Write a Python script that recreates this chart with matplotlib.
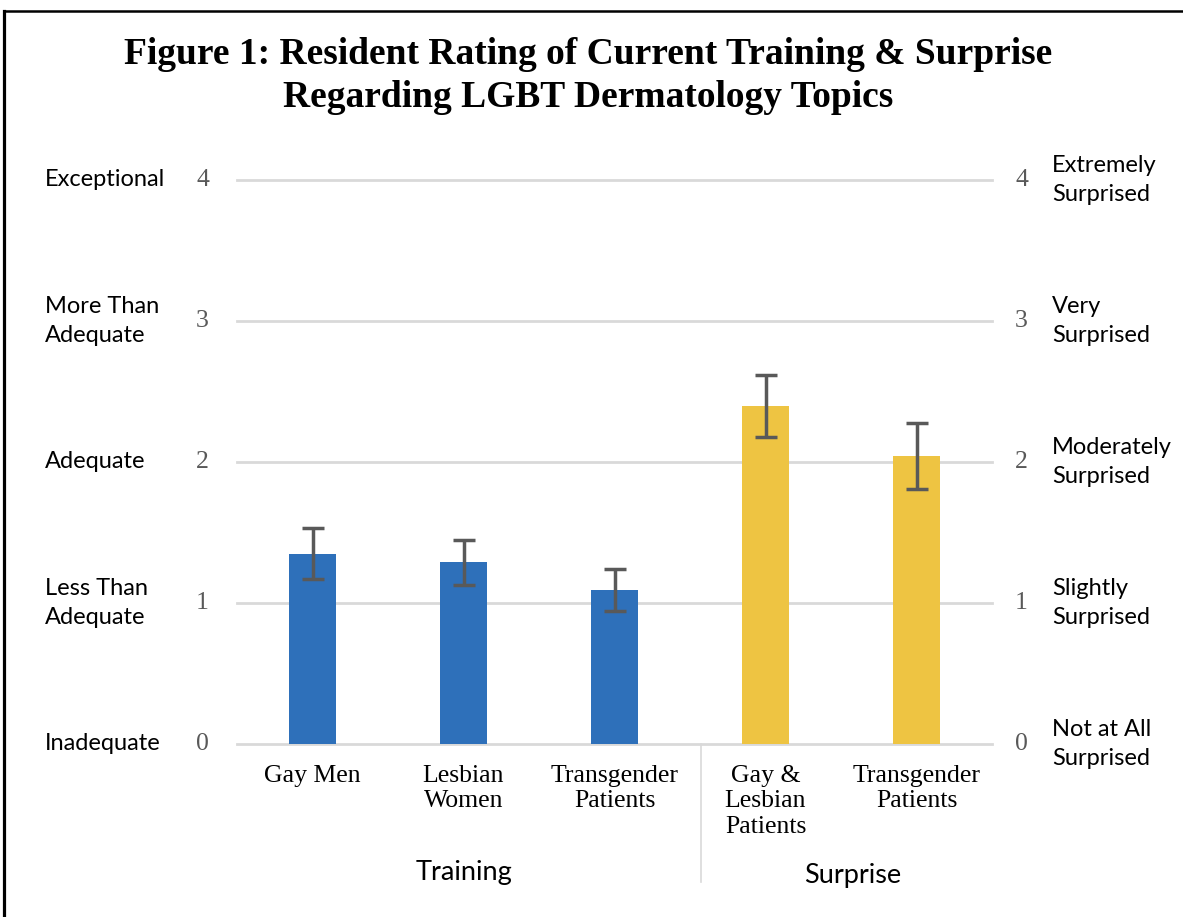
import numpy as np
import matplotlib.pyplot as plt
from matplotlib.lines import Line2D
import matplotlib.transforms as mtransforms

plt.rcParams['font.family'] = ['Liberation Serif', 'DejaVu Serif']

# data
categories = ['Gay Men', 'Lesbian\nWomen', 'Transgender\nPatients',
              'Gay &\nLesbian\nPatients', 'Transgender\nPatients']
means  = [1.35, 1.29, 1.09, 2.40, 2.04]
errors = [0.18, 0.16, 0.15, 0.22, 0.235]
groups = ['Training', 'Surprise']
group_members = [[0, 1, 2], [3, 4]]
left_labels  = ['Inadequate', 'Less Than\nAdequate', 'Adequate',
                'More Than\nAdequate', 'Exceptional']
right_labels = ['Not at All\nSurprised', 'Slightly\nSurprised',
                'Moderately\nSurprised', 'Very\nSurprised',
                'Extremely\nSurprised']
ticks = [0, 1, 2, 3, 4]

blue, gold = '#2E70BA', '#EEC442'
colors = [blue, blue, blue, gold, gold]
sans = ['Lato', 'DejaVu Sans']

W, H = 1183, 917
fig = plt.figure(figsize=(W / 100, H / 100), dpi=100)
ax = fig.add_axes([237 / W, 1 - 744 / H, (992 - 237) / W, (744 - 180) / H])

x = np.arange(len(categories))
ax.bar(x, means, width=0.31, color=colors, zorder=3)
ax.errorbar(x, means, yerr=errors, fmt='none', ecolor='#595959',
            elinewidth=2.5, capsize=8, capthick=2.5, zorder=4)

ax.set_xlim(-0.5, len(categories) - 0.5)
ax.set_ylim(0, 4)
for t in ticks:
    ax.axhline(t, color='#d9d9d9', lw=2, zorder=1, clip_on=False)
for s in ax.spines.values():
    s.set_visible(False)
ax.set_xticks([])
ax.set_yticks([])
ax.patch.set_alpha(0)

trans = mtransforms.blended_transform_factory(ax.transData, ax.transAxes)
for xi, lab in zip(x, categories):
    ax.text(xi, -0.037, lab, transform=trans, ha='center', va='top',
            fontsize=18.5, linespacing=1.2)

# group labels and separator
ax.text(np.mean(group_members[0]), -0.228, groups[0], transform=trans,
        ha='center', va='center', fontsize=19.5, family=sans)
ax.text(np.mean(group_members[1]) + 0.08, -0.233, groups[1], transform=trans,
        ha='center', va='center', fontsize=19.5, family=sans)
ax.add_line(Line2D([2.57, 2.57], [0, -0.245], transform=trans,
                   color='#d9d9d9', lw=1.2, clip_on=False))

# tick numbers and scale labels on both sides
for t, ll, rl in zip(ticks, left_labels, right_labels):
    yf = (1 - (744 - 141 * t) / H)
    fig.text(209 / W, yf, str(t), ha='right', va='center', fontsize=18.5,
             color='#595959')
    fig.text(1015 / W, yf, str(t), ha='left', va='center', fontsize=18.5,
             color='#595959')
    fig.text(45 / W, yf, ll, ha='left', va='center', fontsize=17,
             family=sans, linespacing=1.5)
    fig.text(1052 / W, yf, rl, ha='left', va='center', fontsize=17,
             family=sans, linespacing=1.5)

fig.text(588 / W, 1 - 76 / H,
         'Figure 1: Resident Rating of Current Training & Surprise\n'
         'Regarding LGBT Dermatology Topics',
         ha='center', va='center', fontsize=27, fontweight='bold',
         linespacing=1.3)

# frame lines
fig.add_artist(Line2D([4 / W, 4 / W], [0, 1 - 11 / H], color='black', lw=2.3))
fig.add_artist(Line2D([4 / W, 1], [1 - 11 / H, 1 - 11 / H], color='black', lw=1.8))

plt.savefig('out.png', dpi=100)
